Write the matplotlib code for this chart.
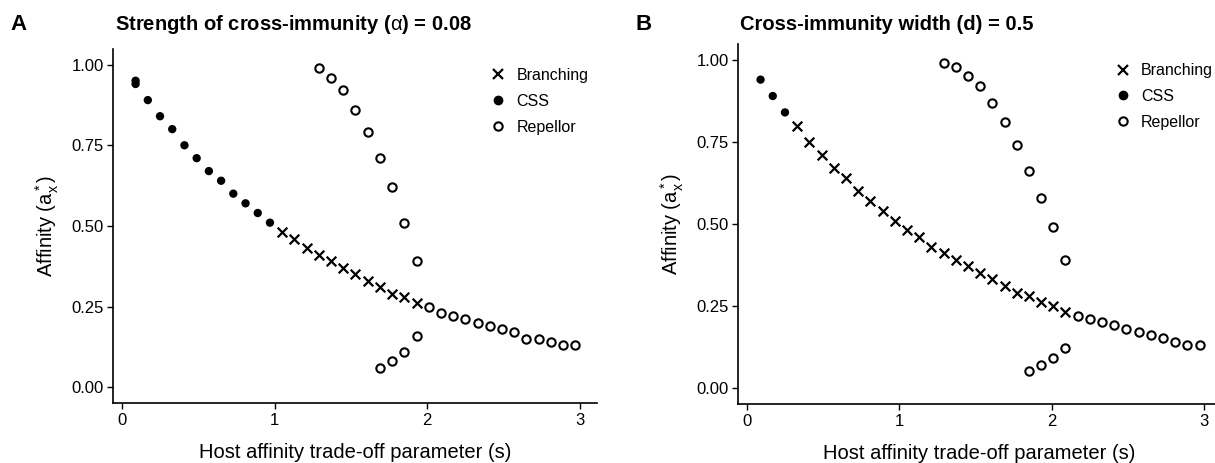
import matplotlib

matplotlib.use("Agg")
import matplotlib.pyplot as plt
from matplotlib.lines import Line2D

plt.rcParams["font.family"] = ["Liberation Sans", "DejaVu Sans"]
plt.rcParams["mathtext.fontset"] = "custom"
plt.rcParams["mathtext.rm"] = "Liberation Sans"
plt.rcParams["mathtext.it"] = "Liberation Sans:italic"
plt.rcParams["mathtext.bf"] = "Liberation Sans:bold"

# %% Panel A — alpha = 0.08
a_css_s = [0.09, 0.09, 0.17, 0.25, 0.33, 0.41, 0.49, 0.57, 0.65, 0.73, 0.81, 0.89, 0.97]
a_css_y = [0.95, 0.94, 0.89, 0.84, 0.80, 0.75, 0.71, 0.67, 0.64, 0.60, 0.57, 0.54, 0.51]
a_br_s = [1.05, 1.13, 1.21, 1.29, 1.37, 1.45, 1.53, 1.61, 1.69, 1.77, 1.85, 1.93]
a_br_y = [0.48, 0.46, 0.43, 0.41, 0.39, 0.37, 0.35, 0.33, 0.31, 0.29, 0.28, 0.26]
a_rep_s = [2.01, 2.09, 2.17, 2.25, 2.33, 2.41, 2.49, 2.57, 2.65, 2.73, 2.81, 2.89, 2.97,
           1.29, 1.37, 1.45, 1.53, 1.61, 1.69, 1.77, 1.85, 1.93,
           1.69, 1.77, 1.85, 1.93]
a_rep_y = [0.25, 0.23, 0.22, 0.21, 0.20, 0.19, 0.18, 0.17, 0.15, 0.15, 0.14, 0.13, 0.13,
           0.99, 0.96, 0.92, 0.86, 0.79, 0.71, 0.62, 0.51, 0.39,
           0.06, 0.08, 0.11, 0.16]

# %% Panel B — d = 0.5
b_css_s = [0.09, 0.17, 0.25]
b_css_y = [0.94, 0.89, 0.84]
b_br_s = [0.33, 0.41, 0.49, 0.57, 0.65, 0.73, 0.81, 0.89, 0.97, 1.05, 1.13, 1.21,
          1.29, 1.37, 1.45, 1.53, 1.61, 1.69, 1.77, 1.85, 1.93, 2.01, 2.09]
b_br_y = [0.80, 0.75, 0.71, 0.67, 0.64, 0.60, 0.57, 0.54, 0.51, 0.48, 0.46, 0.43,
          0.41, 0.39, 0.37, 0.35, 0.33, 0.31, 0.29, 0.28, 0.26, 0.25, 0.23]
b_rep_s = [2.17, 2.25, 2.33, 2.41, 2.49, 2.57, 2.65, 2.73, 2.81, 2.89, 2.97,
           1.29, 1.37, 1.45, 1.53, 1.61, 1.69, 1.77, 1.85, 1.93, 2.01, 2.09,
           1.85, 1.93, 2.01, 2.09]
b_rep_y = [0.22, 0.21, 0.20, 0.19, 0.18, 0.17, 0.16, 0.15, 0.14, 0.13, 0.13,
           0.99, 0.98, 0.95, 0.92, 0.87, 0.81, 0.74, 0.66, 0.58, 0.49, 0.39,
           0.05, 0.07, 0.09, 0.12]

panels = [
    ("A", r"Strength of cross-immunity ($\mathrm{\alpha}$) = 0.08",
     (a_css_s, a_css_y), (a_br_s, a_br_y), (a_rep_s, a_rep_y),
     [113.3 / 1215, 1 - 403.3 / 463, (596.7 - 113.3) / 1215, (403.3 - 48.5) / 463]),
    ("B", "Cross-immunity width (d) = 0.5",
     (b_css_s, b_css_y), (b_br_s, b_br_y), (b_rep_s, b_rep_y),
     [738.3 / 1215, 1 - 404.0 / 463, (1221.0 - 738.3) / 1215, (404.0 - 43.6) / 463]),
]

fig = plt.figure(figsize=(12.15, 4.63), dpi=100)

for tag, title, css, br, rep, rect in panels:
    ax = fig.add_axes(rect)
    ax.scatter(*br, marker="x", s=48, c="black", linewidths=1.6, zorder=3)
    ax.scatter(*css, marker="o", s=36, c="black", edgecolors="none", zorder=3)
    ax.scatter(*rep, marker="o", s=36, facecolors="white", edgecolors="black",
               linewidths=1.5, zorder=3)
    ax.set_xlim(-0.056, 3.11)
    ax.set_ylim(-0.05, 1.05)
    ax.set_xticks([0, 1, 2, 3])
    ax.set_yticks([0, 0.25, 0.5, 0.75, 1.0])
    ax.set_yticklabels(["0.00", "0.25", "0.50", "0.75", "1.00"])
    for side in ("top", "right"):
        ax.spines[side].set_visible(False)
    for side in ("left", "bottom"):
        ax.spines[side].set_linewidth(1.2)
    ax.tick_params(labelsize=12, length=4, width=1.0, colors="black", pad=3)
    ax.set_xlabel("Host affinity trade-off parameter (s)", fontsize=14.5, labelpad=11)
    ax.set_ylabel(r"Affinity ($\mathregular{a_x^*}$)", fontsize=14.5, labelpad=7)

    handles = [
        Line2D([], [], ls="none", marker="x", color="black", markersize=7, mew=1.6),
        Line2D([], [], ls="none", marker="o", color="black", markersize=6),
        Line2D([], [], ls="none", marker="o", mfc="white", mec="black",
               markersize=6, mew=1.5),
    ]
    ax.legend(handles, ["Branching", "CSS", "Repellor"], loc="upper right",
              bbox_to_anchor=(1.0, 0.968), frameon=False, fontsize=11.5,
              handletextpad=0.55, labelspacing=0.68, handlelength=1.2,
              borderaxespad=0.0, borderpad=0.5)

    x0 = rect[0]
    fig.text(x0 + 2 / 1215, 1 - 24 / 463, title, fontsize=14.5, fontweight="bold",
             va="center", ha="left")
    fig.text(x0 - 103 / 1215, 1 - 24 / 463, tag, fontsize=16, fontweight="bold",
             va="center", ha="left")

fig.savefig("out.png", dpi=100)
